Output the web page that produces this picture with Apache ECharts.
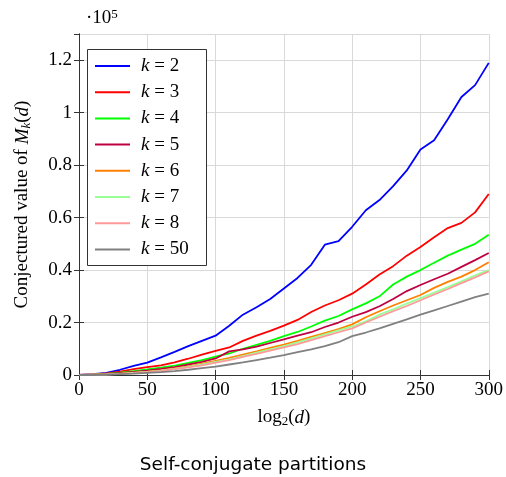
<!DOCTYPE html>
<html>
<head>
<meta charset="utf-8">
<script src="https://cdn.jsdelivr.net/npm/echarts@6/dist/echarts.min.js"></script>
<style>html,body{margin:0;padding:0;background:#fff}#c{width:506px;height:477px}</style>
</head>
<body>
<div id="c"></div>
<script>
// log2(d) positions
const dValues = [0,10,20,30,40,50,60,70,80,90,100,110,120,130,140,150,160,170,180,190,200,210,220,230,240,250,260,270,280,290,300];
// values in units of 10^5
const k2  = [0,0.003,0.008,0.02,0.035,0.047,0.067,0.088,0.11,0.13,0.15,0.188,0.23,0.258,0.29,0.33,0.37,0.42,0.497,0.51,0.565,0.628,0.667,0.72,0.78,0.86,0.895,0.975,1.06,1.105,1.19];
const k3  = [0,0.002,0.006,0.013,0.022,0.03,0.037,0.048,0.062,0.078,0.092,0.105,0.13,0.15,0.168,0.188,0.21,0.24,0.265,0.285,0.31,0.345,0.383,0.415,0.455,0.488,0.525,0.56,0.58,0.62,0.69];
const k4  = [0,0.001,0.004,0.009,0.015,0.021,0.028,0.036,0.046,0.057,0.07,0.082,0.1,0.115,0.13,0.148,0.164,0.185,0.207,0.225,0.25,0.273,0.3,0.345,0.375,0.4,0.428,0.455,0.478,0.5,0.535];
const k5  = [0,0.001,0.003,0.007,0.012,0.017,0.023,0.03,0.04,0.05,0.063,0.09,0.098,0.108,0.122,0.136,0.15,0.163,0.183,0.2,0.222,0.24,0.262,0.29,0.32,0.343,0.365,0.386,0.412,0.438,0.465];
const k6  = [0,0.001,0.002,0.005,0.009,0.013,0.018,0.025,0.033,0.043,0.054,0.065,0.078,0.09,0.103,0.116,0.13,0.145,0.16,0.175,0.193,0.22,0.243,0.265,0.285,0.305,0.332,0.355,0.375,0.4,0.43];
const k7  = [0,0.001,0.002,0.004,0.008,0.012,0.017,0.023,0.031,0.04,0.05,0.06,0.072,0.085,0.098,0.11,0.124,0.14,0.155,0.17,0.185,0.205,0.23,0.25,0.272,0.293,0.314,0.335,0.357,0.38,0.40];
const k8  = [0,0.001,0.002,0.004,0.007,0.011,0.016,0.022,0.029,0.037,0.047,0.057,0.069,0.081,0.093,0.105,0.118,0.133,0.148,0.163,0.178,0.2,0.222,0.243,0.263,0.285,0.307,0.328,0.35,0.372,0.395];
const k50 = [0,0,0.001,0.003,0.005,0.008,0.011,0.015,0.02,0.026,0.032,0.04,0.048,0.057,0.066,0.076,0.087,0.098,0.11,0.125,0.148,0.162,0.178,0.195,0.212,0.23,0.246,0.263,0.28,0.297,0.31];
const seriesNames = ['k = 2','k = 3','k = 4','k = 5','k = 6','k = 7','k = 8','k = 50'];
const seriesData = [k2,k3,k4,k5,k6,k7,k8,k50];
const seriesColors = ['#0000ff','#ff0000','#00ff00','#bf0040','#ff8000','#99ff99','#ff9999','#808080'];
const xTicks = [0,50,100,150,200,250,300];
const yTicks = [0,0.2,0.4,0.6,0.8,1,1.2];

const serif = '"Liberation Serif", "DejaVu Serif", serif';
const frame = '#333333';
const chart = echarts.init(document.getElementById('c'), null, {renderer:'canvas'});

const series = seriesNames.map((n,i)=>({
  name:n, type:'line', symbol:'none', showSymbol:false,
  data: dValues.map((d,j)=>[d, seriesData[i][j]]),
  lineStyle:{color:seriesColors[i], width:1.8},
  itemStyle:{color:seriesColors[i]},
  z: 2
}));

chart.setOption({
  animation:false,
  grid:{left:79, right:17, top:34, bottom:102},
  xAxis:[{
    type:'value', min:0, max:300, interval:50,
    axisLine:{show:true, lineStyle:{color:frame, width:1}},
    axisTick:{show:true, inside:true, length:5, lineStyle:{color:frame}},
    axisLabel:{fontFamily:serif, fontSize:19, color:'#000', margin:6},
    splitLine:{show:true, lineStyle:{color:'#d9d9d9', width:1}},
    name:'{a|log}{s|2}{a|(}{i|d}{a|)}', nameLocation:'middle', nameGap:32,
    nameTextStyle:{rich:{
      a:{fontFamily:serif, fontSize:19, color:'#000'},
      i:{fontFamily:serif, fontSize:19, fontStyle:'italic', color:'#000'},
      s:{fontFamily:serif, fontSize:13, color:'#000', padding:[8,0,0,0]}
    }}
  },{
    type:'value', min:0, max:300, interval:50, position:'top',
    axisLine:{show:true, lineStyle:{color:frame, width:1}},
    axisTick:{show:true, inside:true, length:5, lineStyle:{color:frame}},
    axisLabel:{show:false}, splitLine:{show:false}
  }],
  yAxis:[{
    type:'value', min:0, max:1.3, interval:0.2,
    axisLine:{show:true, lineStyle:{color:frame, width:1}},
    axisTick:{show:true, inside:true, length:5, lineStyle:{color:frame}},
    axisLabel:{fontFamily:serif, fontSize:19, color:'#000', margin:7, showMaxLabel:false,
      formatter:v=> (Math.abs(v-1.3)<1e-9 ? '' : String(Math.round(v*10)/10))},
    splitLine:{show:true, lineStyle:{color:'#d9d9d9', width:1}},
    name:'{a|Conjectured value of }{i|M}{s|k}{a|(}{i|d}{a|)}', nameLocation:'middle', nameGap:46, nameRotate:90,
    nameTextStyle:{rich:{
      a:{fontFamily:serif, fontSize:19, color:'#000'},
      i:{fontFamily:serif, fontSize:19, fontStyle:'italic', color:'#000'},
      s:{fontFamily:serif, fontSize:13, fontStyle:'italic', color:'#000', padding:[8,0,0,0]}
    }}
  },{
    type:'value', min:0, max:1.3, interval:0.2, position:'right',
    axisLine:{show:true, lineStyle:{color:frame, width:1}},
    axisTick:{show:true, inside:true, length:5, lineStyle:{color:frame}},
    axisLabel:{show:false}, splitLine:{show:false}
  }],
  legend:{
    orient:'vertical', left:95, top:56, padding:0, z:20,
    icon:'rect', itemWidth:35, itemHeight:2, itemGap:6.2,
    data:seriesNames,
    formatter:n=>'{i|k}{a| = '+n.split('= ')[1]+'}',
    textStyle:{padding:[0,0,0,6], lineHeight:20, rich:{
      a:{fontFamily:serif, fontSize:19, color:'#000', lineHeight:20},
      i:{fontFamily:serif, fontSize:19, fontStyle:'italic', color:'#000', lineHeight:20}
    }}
  },
  graphic:[
    {type:'rect', shape:{x:87.5, y:49.5, width:119, height:216}, style:{fill:'#fff', stroke:frame, lineWidth:1}, z:10},
    {type:'text', left:86, top:8, style:{rich:{
      a:{fontFamily:serif, fontSize:19, fill:'#000'},
      s:{fontFamily:serif, fontSize:13, fill:'#000', padding:[0,0,8,0]}
    }, text:'{a|·10}{s|5}'}},
    {type:'text', left:'center', top:456, style:{text:'Self-conjugate partitions', fontFamily:'"DejaVu Sans", sans-serif', fontSize:18.5, fill:'#000'}}
  ],
  series: series
});
</script>
</body>
</html>
